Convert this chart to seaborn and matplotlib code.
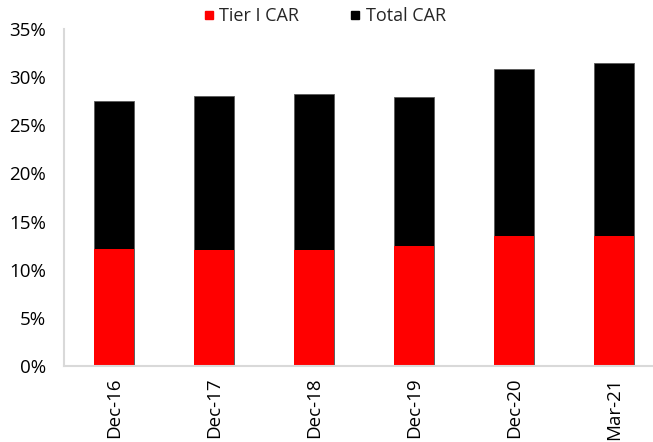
import matplotlib
matplotlib.use("Agg")
import matplotlib.pyplot as plt
import matplotlib.ticker as mticker
from matplotlib.lines import Line2D
import pandas as pd
import seaborn as sns

periods = ["Dec-16", "Dec-17", "Dec-18", "Dec-19", "Dec-20", "Mar-21"]
tier1_car = [12.1, 12.0, 12.0, 12.5, 13.5, 13.5]
total_car = [27.5, 28.0, 28.2, 27.9, 30.8, 31.5]

df = pd.DataFrame({"period": periods, "tier1": tier1_car, "total": total_car})

sns.set_theme(style="white")
plt.rcParams["font.family"] = ["Open Sans", "DejaVu Sans"]

fig = plt.figure(figsize=(6.53, 4.42), dpi=100)
ax = fig.add_axes([64 / 653, 1 - 366 / 442, 600 / 653, 337 / 442])

sns.barplot(data=df, x="period", y="total", color="black", width=0.4,
            saturation=1, ax=ax, edgecolor="#595959", linewidth=0.6)
sns.barplot(data=df, x="period", y="tier1", color="#ff0000", width=0.4,
            saturation=1, ax=ax, linewidth=0)

ax.set_ylim(0, 35)
ax.set_xlim(-0.5, 5.5)
ax.yaxis.set_major_locator(mticker.MultipleLocator(5))
ax.yaxis.set_major_formatter(mticker.FuncFormatter(lambda v, _: f"{v:.0f}%"))
ax.set_xlabel("")
ax.set_ylabel("")
ax.tick_params(axis="both", length=0, colors="black")
ax.tick_params(axis="y", labelsize=13.5, pad=13)
ax.tick_params(axis="x", labelsize=13.5, rotation=90, pad=8.5)

for side in ["top", "right"]:
    ax.spines[side].set_visible(False)
for side in ["left", "bottom"]:
    ax.spines[side].set_color("#d9d9d9")
    ax.spines[side].set_linewidth(1.5)

handles = [
    Line2D([], [], marker="s", linestyle="none", markersize=5.5,
           markerfacecolor="#ff0000", markeredgecolor="#ff0000"),
    Line2D([], [], marker="s", linestyle="none", markersize=5.5,
           markerfacecolor="black", markeredgecolor="black"),
]
fig.legend(handles, ["Tier I CAR", "Total CAR"], loc="center",
           bbox_to_anchor=(323 / 653, 1 - 16 / 442), ncol=2, frameon=False,
           fontsize=13, handletextpad=0.1, columnspacing=2.6,
           handlelength=1.0)

fig.savefig("out.png", dpi=100)
